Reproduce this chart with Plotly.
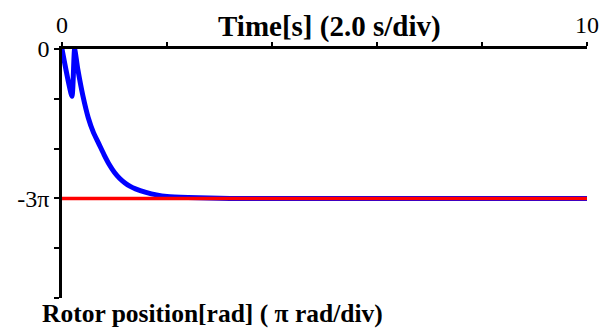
import numpy as np
import plotly.graph_objects as go

PI = np.pi

# Time [s]
t_blue = [0, 0.19, 0.24, 0.30, 0.40, 0.50, 0.60, 0.70, 0.80, 0.90, 1.0, 1.1, 1.2, 1.3, 1.4,
          1.6, 1.8, 2.0, 2.4, 2.8, 3.2, 3.6, 4.0, 5, 6, 7, 8, 9, 10]
# Rotor position in units of pi
pos_blue_pi = [0, -0.95, 0, -0.40, -0.95, -1.38, -1.68, -1.90, -2.12, -2.32, -2.48,
               -2.60, -2.69, -2.76, -2.81, -2.88, -2.93, -2.96, -2.98, -2.99, -3.0,
               -3.0, -3.0, -3.0, -3.0, -3.0, -3.0, -3.0, -3.0]

t_red = [0, 10]
pos_red_pi = [-3, -3]

x_tickvals = [0, 2, 4, 6, 8, 10]
x_ticktext = ["0", "", "", "", "", "10"]
y_tickvals_pi = [0, -1, -2, -3, -4, -5]
y_ticktext = ["0", "", "", "-3π", "", ""]

fig = go.Figure()
fig.add_trace(go.Scatter(x=t_blue, y=[v * PI for v in pos_blue_pi], mode="lines",
                         line=dict(color="#0000ff", width=5, shape="spline", smoothing=0.5),
                         showlegend=False))
fig.add_trace(go.Scatter(x=t_red, y=[v * PI for v in pos_red_pi], mode="lines",
                         line=dict(color="#ff0000", width=3.5), showlegend=False))

serif = "'Liberation Serif', 'Times New Roman', Times, serif"

fig.update_layout(
    width=611, height=329,
    margin=dict(l=62, r=14, t=46, b=31),
    paper_bgcolor="white", plot_bgcolor="white",
    showlegend=False,
    font=dict(family=serif, color="black", size=24),
    xaxis=dict(range=[0, 10], side="top", showline=True, linecolor="black", linewidth=2.5,
               showgrid=False, zeroline=False, ticks="outside", ticklen=4, tickwidth=2,
               tickcolor="black", tickvals=x_tickvals, ticktext=x_ticktext,
               tickfont=dict(family=serif, size=24), anchor="y", ticklabelstandoff=0),
    yaxis=dict(range=[-5 * PI, 0], showline=True, linecolor="black", linewidth=2.5,
               showgrid=False, zeroline=False, ticks="outside", ticklen=5, tickwidth=2,
               tickcolor="black", tickvals=[v * PI for v in y_tickvals_pi],
               ticktext=y_ticktext, tickfont=dict(family=serif, size=24),
               ticklabelstandoff=0),
    annotations=[
        dict(text="<b>Time[s] (2.0 s/div)</b>", xref="paper", yref="paper",
             x=(335 - 62) / 535, y=1 + (46 - 23) / 252, xanchor="center", yanchor="middle",
             showarrow=False, font=dict(family=serif, size=29)),
        dict(text="<b>Rotor position[rad] ( π rad/div)</b>", xref="paper", yref="paper",
             x=(40 - 62) / 535, y=-(314 - 298) / 252, xanchor="left", yanchor="middle",
             showarrow=False, font=dict(family=serif, size=25.5)),
    ],
)

fig.write_html("out.html")
